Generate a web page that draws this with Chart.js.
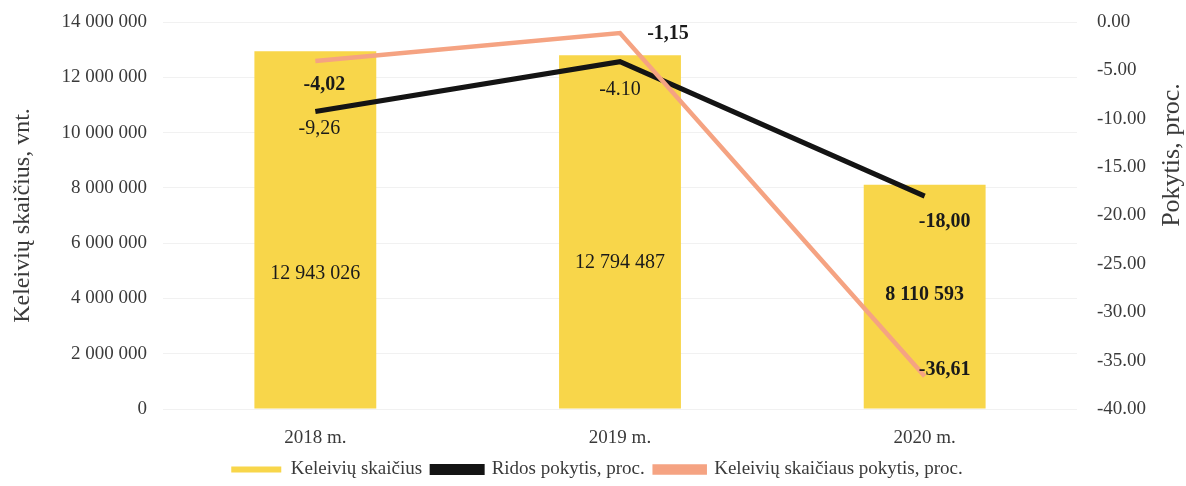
<!DOCTYPE html>
<html>
<head>
<meta charset="utf-8">
<script src="https://cdn.jsdelivr.net/npm/chart.js@4.4.1/dist/chart.umd.min.js"></script>
<style>
  html, body { margin: 0; padding: 0; background: #fff; }
  #wrap { width: 1186px; height: 486px; }
</style>
</head>
<body>
<div id="wrap"><canvas id="myChart" width="1186" height="486"></canvas></div>
<script>
/* Data */
const years = ['2018 m.', '2019 m.', '2020 m.'];
const passengers = [12943026, 12794487, 8110593];
const mileageChange = [-9.26, -4.10, -18.00];
const passengerChange = [-4.02, -1.15, -36.61];
const mileageText = ['-9,26', '-4.10', '-18,00'];
const passengerChangeText = ['-4,02', '-1,15', '-36,61'];
const leftTicks = [0, 2000000, 4000000, 6000000, 8000000, 10000000, 12000000, 14000000];

/* Looks */
const barColor = '#F8D64A';
const blackLine = '#141414';
const orangeLine = '#F5A382';
const textColor = '#3a3a3a';
const barBold = [false, false, true];
const mileageBold = [false, false, true];
const changeBold = [true, true, true];
// where each value label sits relative to its mark (px)
const barShift = [44, 31, -2];
const mileageShift = [[4, 17], [0, 28], [20, 26]];
const changeShift = [[9, 24], [48, 1], [20, -6]];

Chart.defaults.font.family = '"Liberation Serif", "Times New Roman", serif';
Chart.defaults.color = textColor;

function spaced(n) {
    return String(n).replace(/\B(?=(\d{3})+(?!\d))/g, ' ');
}

/* value labels + right axis title (reads bottom to top) */
const valueLabels = {
    id: 'valueLabels',
    afterDatasetsDraw(chart) {
        const ctx = chart.ctx;
        ctx.save();
        ctx.textAlign = 'center';
        ctx.textBaseline = 'middle';
        ctx.fillStyle = '#1a1a1a';

        const bars = chart.getDatasetMeta(2).data;
        bars.forEach((b, i) => {
            ctx.font = (barBold[i] ? 'bold ' : '') + '20px "Liberation Serif"';
            ctx.fillText(spaced(passengers[i]), b.x, (b.y + b.base) / 2 + barShift[i]);
        });

        const black = chart.getDatasetMeta(1).data;
        black.forEach((p, i) => {
            ctx.font = (mileageBold[i] ? 'bold ' : '') + '20px "Liberation Serif"';
            ctx.fillText(mileageText[i], p.x + mileageShift[i][0], p.y + mileageShift[i][1]);
        });

        const orange = chart.getDatasetMeta(0).data;
        orange.forEach((p, i) => {
            ctx.font = (changeBold[i] ? 'bold ' : '') + '20px "Liberation Serif"';
            ctx.fillText(passengerChangeText[i], p.x + changeShift[i][0], p.y + changeShift[i][1]);
        });

        // right axis title
        const y1 = chart.scales.y1;
        ctx.fillStyle = textColor;
        ctx.font = '26px "Liberation Serif"';
        ctx.translate(y1.right - 14, y1.top + 133);
        ctx.rotate(-Math.PI / 2);
        ctx.fillText('Pokytis, proc.', 0, 0);
        ctx.restore();
    }
};

const ctx = document.getElementById('myChart').getContext('2d');
const myChart = new Chart(ctx, {
    data: {
        labels: years,
        datasets: [
            {
                type: 'line',
                label: 'Keleivių skaičiaus pokytis, proc.',
                data: passengerChange,
                borderColor: orangeLine,
                backgroundColor: orangeLine,
                borderWidth: 4.5,
                pointRadius: 0,
                tension: 0,
                yAxisID: 'y1',
                order: 0
            },
            {
                type: 'line',
                label: 'Ridos pokytis, proc.',
                data: mileageChange,
                borderColor: blackLine,
                backgroundColor: blackLine,
                borderWidth: 5,
                pointRadius: 0,
                tension: 0,
                yAxisID: 'y1',
                order: 1
            },
            {
                type: 'bar',
                label: 'Keleivių skaičius',
                data: passengers,
                backgroundColor: barColor,
                borderWidth: 0,
                categoryPercentage: 1,
                barPercentage: 0.4,
                yAxisID: 'y',
                order: 2
            }
        ]
    },
    options: {
        responsive: false,
        animation: false,
        layout: { padding: { left: 8, right: 0, top: 22, bottom: -3 } },
        plugins: {
            tooltip: { enabled: false },
            legend: {
                position: 'bottom',
                labels: {
                    boxWidth: 50,
                    boxHeight: 6,
                    padding: 10,
                    font: { size: 19 },
                    sort: (a, b) => b.datasetIndex - a.datasetIndex
                }
            }
        },
        scales: {
            x: {
                grid: { display: false, drawTicks: false },
                border: { display: false },
                ticks: { font: { size: 19 }, padding: 18 },
                afterFit: (axis) => { axis.height = 41; }
            },
            y: {
                position: 'left',
                min: 0,
                max: 14000000,
                afterBuildTicks: (axis) => { axis.ticks = leftTicks.map(v => ({ value: v })); },
                grid: { color: '#f1f1f1', drawTicks: false },
                border: { display: false },
                ticks: {
                    font: { size: 19 },
                    padding: 16,
                    callback: (v) => spaced(v)
                },
                title: { display: true, text: 'Keleivių skaičius, vnt.', font: { size: 24 }, padding: 0 },
                afterFit: (axis) => { axis.width = 155; axis.paddingTop = 0; axis.paddingBottom = 0; }
            },
            y1: {
                position: 'right',
                min: -40,
                max: 0,
                grid: { display: false, drawTicks: false },
                border: { display: false },
                ticks: {
                    stepSize: 5,
                    font: { size: 19 },
                    padding: 20,
                    callback: (v) => v.toFixed(2)
                },
                afterFit: (axis) => { axis.width = 109; axis.paddingTop = 0; axis.paddingBottom = 0; }
            }
        }
    },
    plugins: [valueLabels]
});
</script>
</body>
</html>
